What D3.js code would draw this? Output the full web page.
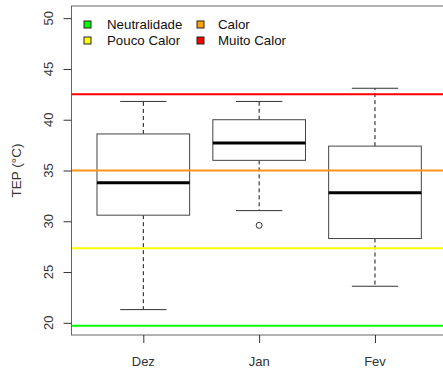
<!DOCTYPE html>
<html>
<head>
<meta charset="utf-8">
<script src="https://cdn.jsdelivr.net/npm/d3@7"></script>
<style>
  html, body { margin: 0; padding: 0; background: #fff; }
  svg { display: block; font-family: "Liberation Sans", Arial, sans-serif; }
</style>
</head>
<body>
<svg id="chart" width="443" height="369"></svg>
<script>
// Months and their box statistics (°C)
const months = ["Dez", "Jan", "Fev"];
const lowerWhisker = [21.3, 31.05, 23.6];
const q1 = [30.6, 36.0, 28.3];
const median = [33.8, 37.7, 32.8];
const q3 = [38.6, 40.0, 37.4];
const upperWhisker = [41.8, 41.8, 43.1];
const outliers = [[], [29.6], []];

// Thermal comfort thresholds
const zoneNames = ["Neutralidade", "Pouco Calor", "Calor", "Muito Calor"];
const zoneLimits = [19.7, 27.35, 35.0, 42.5];
const zoneLineColors = ["#00ff00", "#ffff00", "#ff9414", "#ff0000"];
const zoneKeyColors = ["#00ff00", "#ffff00", "#ffa500", "#ff0000"];

const yTicks = [20, 25, 30, 35, 40, 45, 50];

const svg = d3.select("#chart");
const plotLeft = 71.5, plotRight = 446.8, plotTop = 6, plotBottom = 335;

const x = d3.scaleLinear().domain([0.38, 3.62]).range([plotLeft, plotRight]);
const y = d3.scaleLinear().domain([18.8, 51.2]).range([plotBottom, plotTop]);

// Boxes
const boxHalf = 0.4, capHalf = 0.2;
const g = svg.append("g");
months.forEach((m, i) => {
  const c = i + 1;
  // whiskers
  g.append("line").attr("x1", x(c)).attr("x2", x(c))
    .attr("y1", y(q3[i])).attr("y2", y(upperWhisker[i]))
    .attr("stroke", "#111").attr("stroke-dasharray", "4,3");
  g.append("line").attr("x1", x(c)).attr("x2", x(c))
    .attr("y1", y(q1[i])).attr("y2", y(lowerWhisker[i]))
    .attr("stroke", "#111").attr("stroke-dasharray", "4,3");
  // caps
  [upperWhisker[i], lowerWhisker[i]].forEach(v => {
    g.append("line").attr("x1", x(c - capHalf)).attr("x2", x(c + capHalf))
      .attr("y1", y(v)).attr("y2", y(v)).attr("stroke", "#333");
  });
  // box
  g.append("rect").attr("x", x(c - boxHalf)).attr("y", y(q3[i]))
    .attr("width", x(c + boxHalf) - x(c - boxHalf))
    .attr("height", y(q1[i]) - y(q3[i]))
    .attr("fill", "#fff").attr("stroke", "#444");
  // median
  g.append("line").attr("x1", x(c - boxHalf)).attr("x2", x(c + boxHalf))
    .attr("y1", y(median[i])).attr("y2", y(median[i]))
    .attr("stroke", "#000").attr("stroke-width", 3);
  // outliers
  outliers[i].forEach(v => {
    g.append("circle").attr("cx", x(c)).attr("cy", y(v)).attr("r", 3)
      .attr("fill", "none").attr("stroke", "#333");
  });
});

// Threshold lines
zoneLimits.forEach((v, i) => {
  svg.append("line").attr("x1", plotLeft).attr("x2", plotRight)
    .attr("y1", y(v)).attr("y2", y(v))
    .attr("stroke", zoneLineColors[i]).attr("stroke-width", 2);
});

// Plot frame
svg.append("rect").attr("x", plotLeft).attr("y", plotTop)
  .attr("width", plotRight - plotLeft).attr("height", plotBottom - plotTop)
  .attr("fill", "none").attr("stroke", "#666");

// Y axis
const yAxis = svg.append("g").attr("transform", `translate(${plotLeft},0)`)
  .call(d3.axisLeft(y).tickValues(yTicks).tickSize(8).tickFormat(""));
yAxis.select(".domain").remove();
yAxis.selectAll("line").attr("stroke", "#333");
yTicks.forEach(t => {
  svg.append("text").attr("transform", `translate(53,${y(t)}) rotate(-90)`)
    .attr("text-anchor", "middle").attr("font-size", 13).attr("fill", "#333")
    .text(t);
});

// X axis
const xAxis = svg.append("g").attr("transform", `translate(0,${plotBottom})`)
  .call(d3.axisBottom(x).tickValues([1, 2, 3]).tickSize(8).tickFormat(""));
xAxis.select(".domain").remove();
xAxis.selectAll("line").attr("stroke", "#333");
months.forEach((m, i) => {
  svg.append("text").attr("x", x(i + 1)).attr("y", 366)
    .attr("text-anchor", "middle").attr("font-size", 13).attr("fill", "#333")
    .text(m);
});

// Y axis title
svg.append("text").attr("transform", `translate(21,${(plotTop + plotBottom) / 2}) rotate(-90)`)
  .attr("text-anchor", "middle").attr("font-size", 13.5).attr("fill", "#333")
  .text("TEP (°C)");

// Legend (two columns)
const legendPos = [
  { sx: 84, tx: 107, y: 24.5 },
  { sx: 84, tx: 107, y: 40.5 },
  { sx: 197, tx: 218, y: 24.5 },
  { sx: 197, tx: 218, y: 40.5 }
];
zoneNames.forEach((name, i) => {
  const p = legendPos[i];
  svg.append("rect").attr("x", p.sx).attr("y", p.y - 3.5)
    .attr("width", 7).attr("height", 7)
    .attr("fill", zoneKeyColors[i]).attr("stroke", "#222");
  svg.append("text").attr("x", p.tx).attr("y", p.y + 4.6)
    .attr("font-size", 13.3).attr("fill", "#111").text(name);
});
</script>
</body>
</html>
